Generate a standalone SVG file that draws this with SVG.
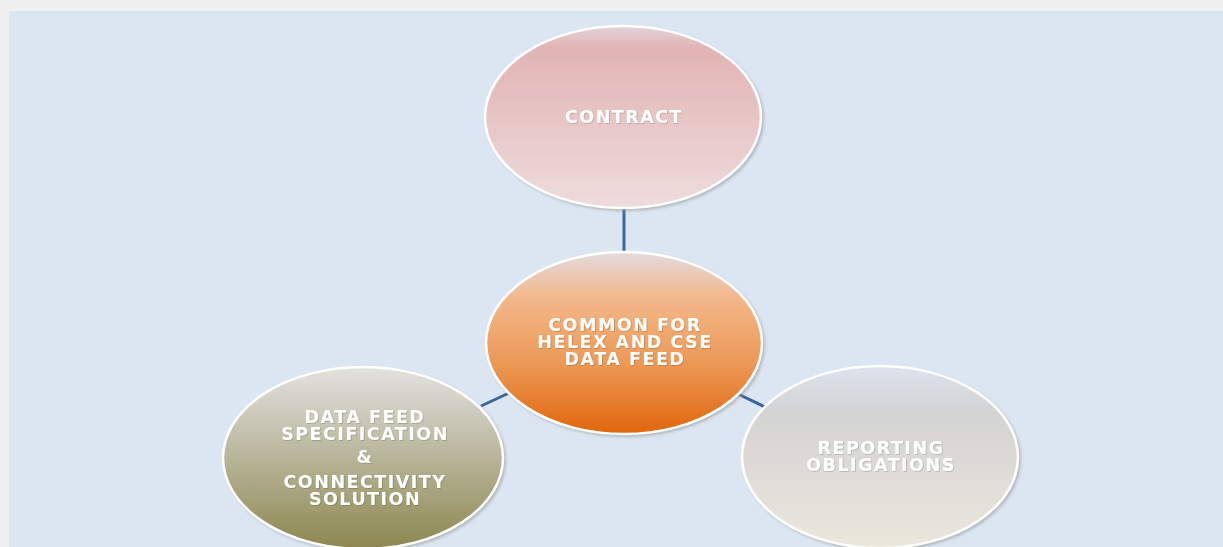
<svg xmlns="http://www.w3.org/2000/svg" width="1223" height="547" viewBox="0 0 1223 547">
<defs>
<linearGradient id="gTop" x1="0" y1="0" x2="0" y2="1">
<stop offset="0" stop-color="#e2d3da"/><stop offset="0.12" stop-color="#e2b4b4"/><stop offset="1" stop-color="#eedcdc"/>
</linearGradient>
<linearGradient id="gMid" x1="0" y1="0" x2="0" y2="1">
<stop offset="0" stop-color="#e3dadf"/><stop offset="0.25" stop-color="#f3b88a"/><stop offset="0.6" stop-color="#ec9a58"/><stop offset="1" stop-color="#e0660c"/>
</linearGradient>
<linearGradient id="gLeft" x1="0" y1="0" x2="0" y2="1">
<stop offset="0" stop-color="#e2e2de"/><stop offset="0.15" stop-color="#d6d4cc"/><stop offset="1" stop-color="#8c874f"/>
</linearGradient>
<linearGradient id="gRight" x1="0" y1="0" x2="0" y2="1">
<stop offset="0" stop-color="#dde3ee"/><stop offset="0.25" stop-color="#d3d3d3"/><stop offset="1" stop-color="#ece7dc"/>
</linearGradient>
<filter id="sh" x="-10%" y="-10%" width="120%" height="120%"><feGaussianBlur stdDeviation="1.5"/></filter>
<filter id="ts" x="-5%" y="-20%" width="110%" height="140%"><feDropShadow dx="0.8" dy="0.8" stdDeviation="0.5" flood-color="#000" flood-opacity="0.2"/></filter>
</defs>
<style>
.shadow{fill:#9a9a9a;opacity:0.6;filter:url(#sh)}
.ell{stroke:#ffffff;stroke-width:2.5}
.lbl{font-family:"DejaVu Sans",Verdana,sans-serif;font-weight:bold;font-size:17.5px;letter-spacing:1.5px;fill:#ffffff;text-anchor:middle;filter:url(#ts)}
.conn{stroke:#3b679c;stroke-width:3;fill:none}
</style>
<rect x="0" y="0" width="1223" height="547" fill="#f0f0f0"/>
<rect x="9" y="11" width="1214" height="536" fill="#dce6f2"/>
<g id="connectors">
<line class="conn" x1="624" y1="209" x2="624" y2="252"/>
<line class="conn" x1="481" y1="406" x2="509" y2="393"/>
<line class="conn" x1="736" y1="393" x2="765" y2="407"/>
</g>
<g id="node-contract">
<ellipse class="shadow" cx="625" cy="119" rx="139" ry="92"/>
<ellipse class="ell" cx="623" cy="117" rx="138" ry="91" fill="url(#gTop)"/>
<text class="lbl" x="624" y="123">CONTRACT</text>
</g>
<g id="node-common">
<ellipse class="shadow" cx="626" cy="345" rx="139" ry="92"/>
<ellipse class="ell" cx="624" cy="343" rx="138" ry="91" fill="url(#gMid)"/>
<text class="lbl" x="625" y="331">COMMON FOR</text>
<text class="lbl" x="625" y="348">HELEX AND CSE</text>
<text class="lbl" x="625" y="365">DATA FEED</text>
</g>
<g id="node-datafeed">
<ellipse class="shadow" cx="365" cy="460" rx="141" ry="92"/>
<ellipse class="ell" cx="363" cy="458" rx="140" ry="91" fill="url(#gLeft)"/>
<text class="lbl" x="365" y="423">DATA FEED</text>
<text class="lbl" x="365" y="440">SPECIFICATION</text>
<text class="lbl" x="365" y="463">&amp;</text>
<text class="lbl" x="365" y="488">CONNECTIVITY</text>
<text class="lbl" x="365" y="505">SOLUTION</text>
</g>
<g id="node-reporting">
<ellipse class="shadow" cx="882" cy="459" rx="139" ry="92"/>
<ellipse class="ell" cx="880" cy="457" rx="138" ry="91" fill="url(#gRight)"/>
<text class="lbl" x="881" y="454">REPORTING</text>
<text class="lbl" x="881" y="471">OBLIGATIONS</text>
</g>
</svg>
